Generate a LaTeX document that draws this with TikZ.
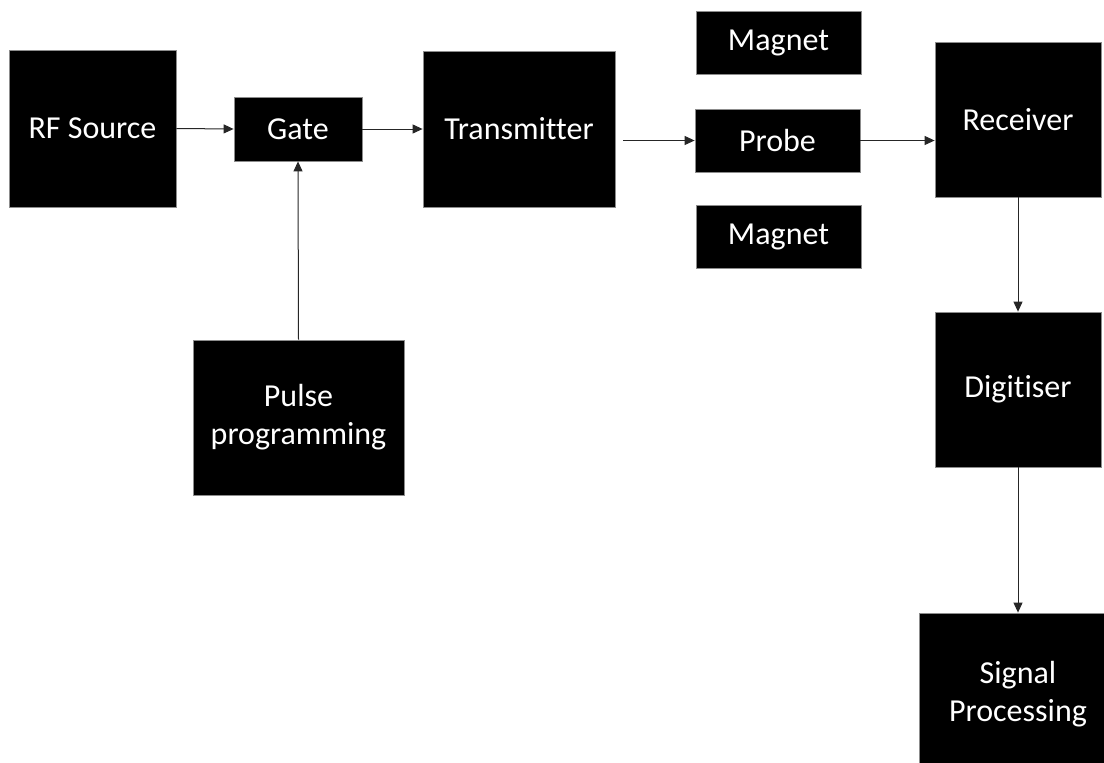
\documentclass[tikz,border=0pt]{standalone}
\usepackage{fontspec}
\setmainfont[Ligatures=NoCommon]{Carlito}
\usetikzlibrary{arrows.meta,calc}

\tikzset{
  block/.style={rectangle, fill=black, draw=black!45, line width=0.8pt,
    text=white, inner sep=0pt, align=center,
    font=\fontsize{32pt}{38pt}\selectfont},
  link/.style={draw=black!85, line width=1pt,
    -{Triangle[length=10pt,width=9pt]}}
}

\begin{document}
\begin{tikzpicture}[x=1pt,y=-1pt]
  \useasboundingbox (0,0) rectangle (1104,763);
  \clip (0,0) rectangle (1104,763);

  % transmit chain
  \node[block, minimum width=167pt, minimum height=157pt] (rf) at (92.5,128.5) {RF Source};
  \node[block, minimum width=128pt, minimum height=64pt] (gate) at (298,129) {Gate};
  \node[block, minimum width=192pt, minimum height=156pt] (tx) at (519,129) {Transmitter};
  \node[block, minimum width=211pt, minimum height=155pt] (pulse) at (298.5,417.5) {Pulse\\programming};

  % probe between the magnet poles
  \node[block, minimum width=165pt, minimum height=63pt] (magA) at (778.5,42.5) {Magnet};
  \node[block, minimum width=165pt, minimum height=63pt] (probe) at (777.5,140.5) {Probe};
  \node[block, minimum width=165pt, minimum height=63pt] (magB) at (778.5,236.5) {Magnet};

  % receive chain
  \node[block, minimum width=166pt, minimum height=155pt] (rec) at (1018,119.5) {Receiver};
  \node[block, minimum width=166pt, minimum height=155pt] (dig) at (1018,389.5) {Digitiser};
  \node[block, minimum width=198pt, minimum height=155pt] (sig) at (1018,690.5) {};
  \node[text=white, align=center, font=\fontsize{32pt}{38pt}\selectfont] (sigtext) at (sig.center) [yshift=-4pt] {Signal\\Processing};

  % connectors
  \draw[link] (rf.east) -- (gate.west);
  \draw[link] (gate.east) -- (tx.west);
  \draw[link] (pulse.north) -- (gate.south);
  \draw[link, shorten <=8pt] (tx.east |- probe.west) -- (probe.west);
  \draw[link] (probe.east) -- (probe.east -| rec.west);
  \draw[link] (rec.south) -- (dig.north);
  \draw[link] (dig.south) -- (dig.south |- sig.north);
\end{tikzpicture}
\end{document}
